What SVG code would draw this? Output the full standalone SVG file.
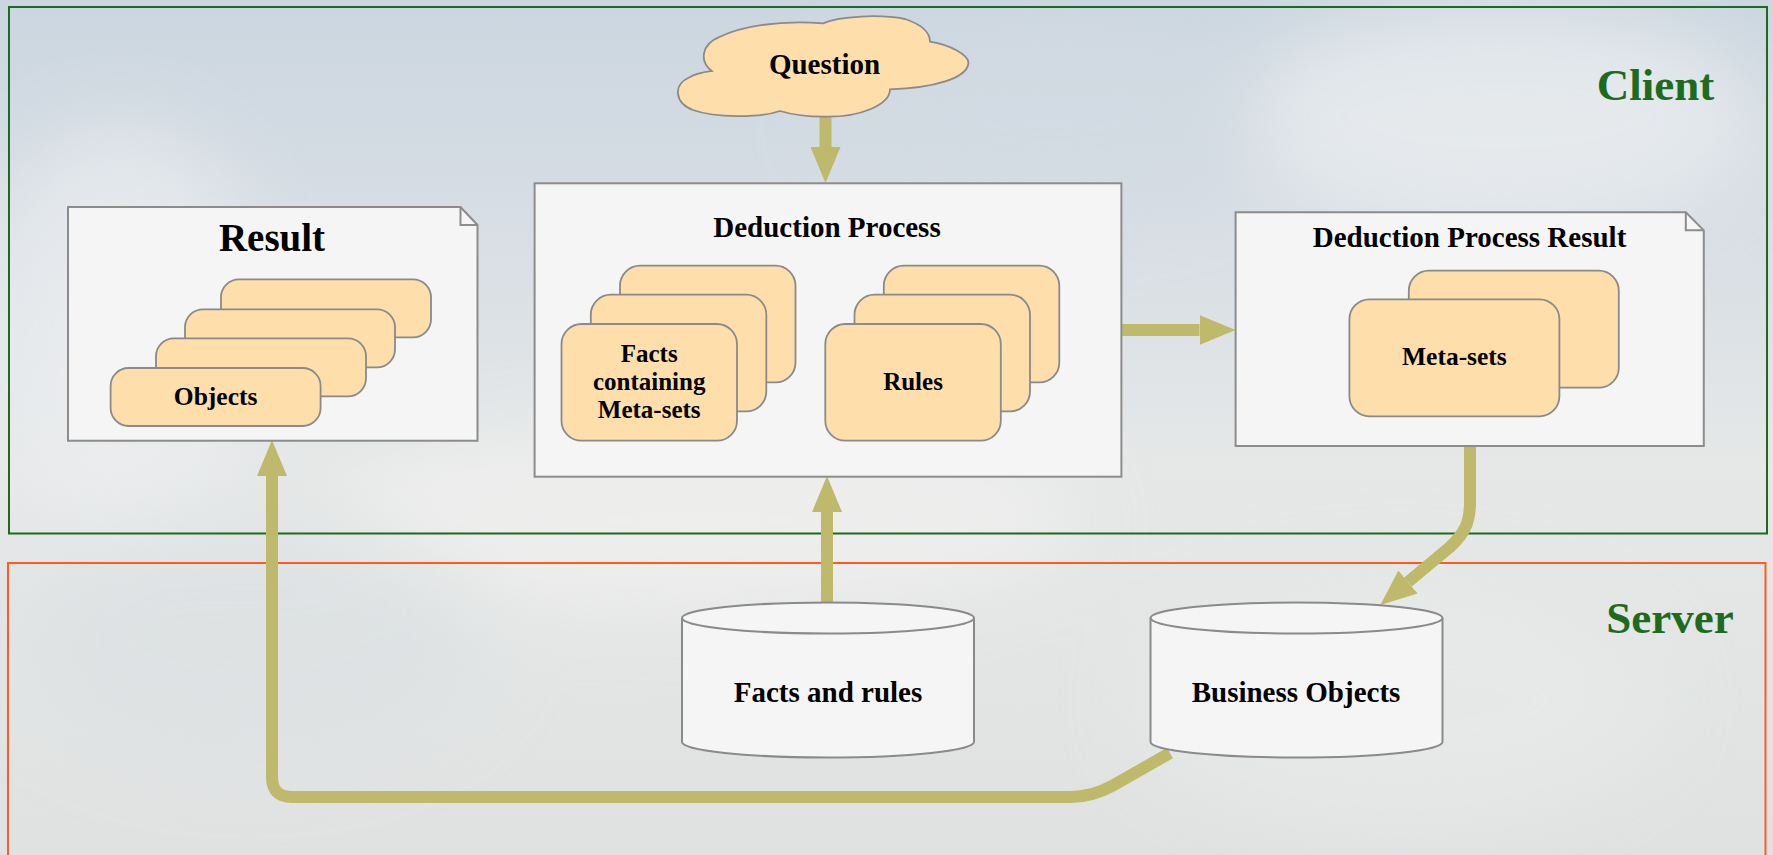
<svg xmlns="http://www.w3.org/2000/svg" width="1773" height="855" viewBox="0 0 1773 855">
  <defs>
    <linearGradient id="sky" x1="0" y1="0" x2="0" y2="1">
      <stop offset="0" stop-color="#cbd6e0"/>
      <stop offset="0.3" stop-color="#d9dfe5"/>
      <stop offset="0.55" stop-color="#e6e8e8"/>
      <stop offset="1" stop-color="#e0e2e2"/>
    </linearGradient>
    <filter id="blur" x="-50%" y="-50%" width="200%" height="200%">
      <feGaussianBlur stdDeviation="40"/>
    </filter>
    <marker id="head" markerUnits="userSpaceOnUse" markerWidth="36" markerHeight="30" viewBox="0 0 36 30" refX="0" refY="15" orient="auto">
      <path d="M0,0 L36,15 L0,30 Z" fill="#bfb96b"/>
    </marker>
    <style>
      .box { fill: #f5f5f5; stroke: #8c8c8c; stroke-width: 2; }
      .card { fill: #fedfab; stroke: #8a8a8a; stroke-width: 1.8; }
      .cyl { fill: #f5f5f5; stroke: #8a8a8a; stroke-width: 2; }
      .t { font-family: "Liberation Serif", "Times New Roman", serif; font-weight: bold; fill: #000; text-anchor: middle; }
      .zone { font-family: "Liberation Serif", "Times New Roman", serif; font-weight: bold; fill: #1e6b1e; text-anchor: middle; font-size: 45px; }
      .conn { fill: none; stroke: #bfb96b; stroke-width: 12; stroke-linejoin: round; }
    </style>
  </defs>

  <!-- background sky -->
  <rect x="0" y="0" width="1773" height="855" fill="url(#sky)"/>
  <g filter="url(#blur)" opacity="0.7">
    <ellipse cx="1500" cy="120" rx="260" ry="110" fill="#eef0f1"/>
    <ellipse cx="120" cy="330" rx="140" ry="200" fill="#eceef0"/>
    <ellipse cx="700" cy="520" rx="380" ry="90" fill="#f1f1ef"/>
    <ellipse cx="1400" cy="700" rx="260" ry="120" fill="#e9ebeb"/>
    <ellipse cx="250" cy="640" rx="240" ry="120" fill="#dde1e3"/>
    <ellipse cx="1050" cy="120" rx="220" ry="90" fill="#d3dbe3"/>
  </g>

  <!-- zones -->
  <g id="client-zone">
    <rect x="9" y="7" width="1758" height="526.5" fill="none" stroke="#1a6b1a" stroke-width="2"/>
    <text class="zone" x="1655.5" y="100">Client</text>
  </g>
  <g id="server-zone">
    <rect x="8" y="563" width="1757.5" height="320" fill="none" stroke="#ff5a1f" stroke-width="2"/>
    <text class="zone" x="1670" y="632.7">Server</text>
  </g>

  <!-- connectors -->
  <g id="connectors">
    <path class="conn" d="M825.5,117 L825.5,147" marker-end="url(#head)"/>
    <path class="conn" d="M1121.5,330 L1199.5,330" marker-end="url(#head)"/>
    <path class="conn" d="M827,602 L827,512" marker-end="url(#head)"/>
    <path class="conn" d="M1470,446 L1470,502 C1470,522 1465,533 1450,547 L1408,582" marker-end="url(#head)"/>
    <path class="conn" d="M1170,753 L1112,786 Q1092,797 1070,797 L292,797 Q272,797 272,777 L272,476" marker-end="url(#head)"/>
  </g>

  <!-- Question cloud -->
  <g id="question">
    <path class="card" d="M711.7,71 C700,62 700,45 720,36.7 C740,27 775,20 823,23.3 C840,16 880,14 905,19 C920,24 930,32 930,41.7 C950,45 970,55 968.3,64 C966,78 935,88 890,89.3 C890,105 860,117 826.7,116.7 C805,117 790,114 780,111 C760,118 715,118 693,110 C675,103 672,85 690,77 C697,73 705,72 711.7,71 Z"/>
    <text class="t" x="824.5" y="73.5" font-size="29">Question</text>
  </g>

  <!-- Result -->
  <g id="result">
    <path class="box" d="M68,207 L460.5,207 L477.5,225 L477.5,440.7 L68,440.7 Z"/>
    <path d="M460.5,207 L460.5,225 L477.5,225" fill="none" stroke="#8c8c8c" stroke-width="2"/>
    <text class="t" x="272" y="250.5" font-size="39">Result</text>
    <rect class="card" x="221" y="279.3" width="210" height="58" rx="18"/>
    <rect class="card" x="185" y="309.3" width="210" height="58" rx="18"/>
    <rect class="card" x="156" y="338.3" width="210" height="58" rx="18"/>
    <rect class="card" x="110.6" y="368" width="210" height="58" rx="18"/>
    <text class="t" x="215.6" y="405" font-size="25.5">Objects</text>
  </g>

  <!-- Deduction Process -->
  <g id="deduction-process">
    <rect class="box" x="534.6" y="183.3" width="586.8" height="293.4"/>
    <text class="t" x="827" y="237.3" font-size="29">Deduction Process</text>
    <rect class="card" x="620" y="265.7" width="175.5" height="116.7" rx="20"/>
    <rect class="card" x="590.8" y="294.7" width="175.5" height="116.7" rx="20"/>
    <rect class="card" x="561.5" y="324" width="175.5" height="116.7" rx="20"/>
    <text class="t" x="649.2" y="361.7" font-size="25">Facts</text>
    <text class="t" x="649.2" y="390" font-size="25">containing</text>
    <text class="t" x="649.2" y="418.3" font-size="25">Meta-sets</text>
    <rect class="card" x="883.8" y="265.7" width="175.5" height="116.7" rx="20"/>
    <rect class="card" x="854.5" y="294.7" width="175.5" height="116.7" rx="20"/>
    <rect class="card" x="825.3" y="324" width="175.5" height="116.7" rx="20"/>
    <text class="t" x="913" y="390" font-size="25">Rules</text>
  </g>

  <!-- Deduction Process Result -->
  <g id="deduction-process-result">
    <path class="box" d="M1235.6,212.3 L1685.8,212.3 L1703.8,230.3 L1703.8,446 L1235.6,446 Z"/>
    <path d="M1685.8,212.3 L1685.8,230.3 L1703.8,230.3" fill="none" stroke="#8c8c8c" stroke-width="2"/>
    <text class="t" x="1469.5" y="246.7" font-size="29">Deduction Process Result</text>
    <rect class="card" x="1408.8" y="270.7" width="210" height="117" rx="20"/>
    <rect class="card" x="1349.4" y="299.3" width="210" height="117" rx="20"/>
    <text class="t" x="1454.4" y="365" font-size="25.5">Meta-sets</text>
  </g>

  <!-- Facts and rules DB -->
  <g id="facts-and-rules">
    <path class="cyl" d="M682,618 L682,742 A146,15.5 0 0 0 974,742 L974,618 A146,15.5 0 0 0 682,618 Z"/>
    <path d="M682,618 A146,15.5 0 0 0 974,618" fill="none" stroke="#8a8a8a" stroke-width="2"/>
    <text class="t" x="828" y="701.7" font-size="29">Facts and rules</text>
  </g>

  <!-- Business Objects DB -->
  <g id="business-objects">
    <path class="cyl" d="M1150.5,618 L1150.5,742 A146,15.5 0 0 0 1442.5,742 L1442.5,618 A146,15.5 0 0 0 1150.5,618 Z"/>
    <path d="M1150.5,618 A146,15.5 0 0 0 1442.5,618" fill="none" stroke="#8a8a8a" stroke-width="2"/>
    <text class="t" x="1296" y="701.7" font-size="29">Business Objects</text>
  </g>
</svg>
